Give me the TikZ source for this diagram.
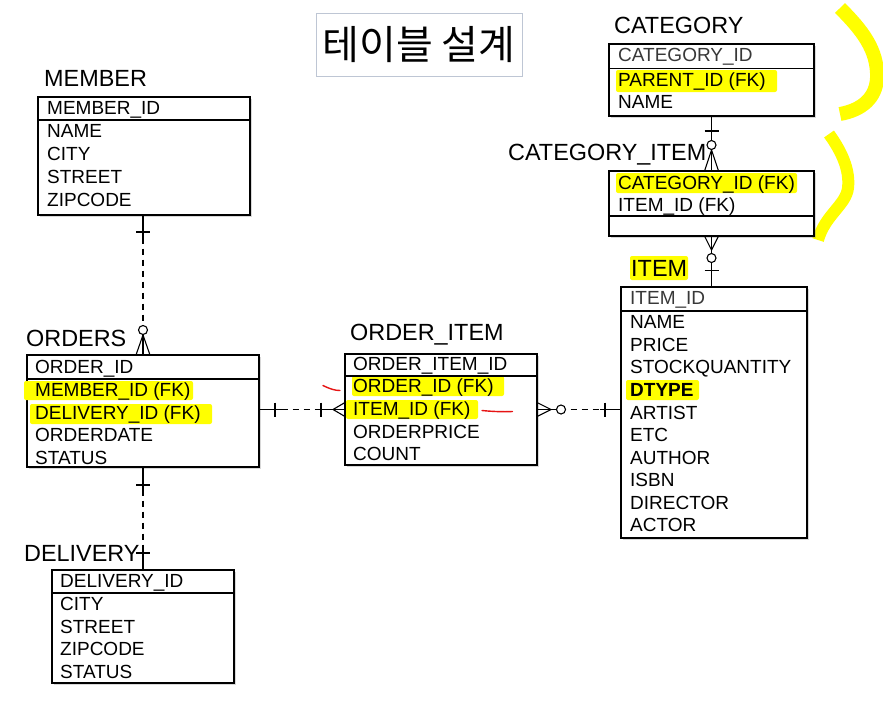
\documentclass[tikz,border=0pt]{standalone}
\usepackage{fontspec}
\setmainfont{Liberation Sans}
\newfontfamily\krfont{Noto Sans CJK KR}
\usetikzlibrary{shadows}
\definecolor{hl}{RGB}{255,255,0}
\definecolor{titlebd}{RGB}{190,198,212}
\definecolor{redmark}{RGB}{230,20,20}
\tikzset{
  tbl/.style={draw, line width=1.3pt, fill=white, inner sep=0pt,
    drop shadow={shadow xshift=1.5pt, shadow yshift=-1.8pt, opacity=0.3}},
  hdrline/.style={line width=1.3pt},
  row/.style={anchor=west, inner sep=0pt, text height=13.6pt, text depth=0pt,
    font=\fontsize{19}{20}\selectfont},
  idrow/.style={row, text=black!78},
  ttl/.style={anchor=west, inner sep=0pt, text height=16.8pt, text depth=0pt,
    font=\fontsize{23.4}{24}\selectfont},
  hlbox/.style={fill=hl, rounded corners=2pt},
  conn/.style={line width=1.1pt},
  dconn/.style={line width=1.1pt, dash pattern=on 6pt off 5pt},
  brush/.style={draw=hl, line width=14pt},
  redstroke/.style={draw=redmark, line width=1.4pt, line cap=round}
}
\begin{document}
\begin{tikzpicture}[x=1pt, y=-1pt]
\useasboundingbox[fill=white] (0,0) rectangle (883,702);

% title
\node[draw=titlebd, line width=0.9pt, minimum width=206pt, minimum height=63pt, inner sep=0pt,
  font=\krfont\fontsize{40}{42}\selectfont] (title) at (419,44.5) {테이블 설계};

% yellow brush strokes
\draw[brush] (840,8) .. controls (862,30) and (878,50) .. (877,78) .. controls (876,98) and (862,110) .. (840,114);
\draw[brush, line width=12pt] (829,134) .. controls (842,152) and (850,170) .. (848,188) .. controls (846,205) and (825,215) .. (818,240);

% tables
\node[tbl, minimum width=212pt, minimum height=118pt] (member) at (144,156) {};
\node[tbl, minimum width=205pt, minimum height=72pt] (cat) at (711.5,80) {};
\node[tbl, minimum width=205pt, minimum height=65pt] (ci) at (711.5,203.5) {};
\node[tbl, minimum width=186pt, minimum height=251pt] (item) at (714,412.5) {};
\node[tbl, minimum width=192pt, minimum height=111pt] (oi) at (441,409.5) {};
\node[tbl, minimum width=232pt, minimum height=112pt] (orders) at (143,411) {};
\node[tbl, minimum width=182pt, minimum height=113pt] (delivery) at (143,626.5) {};

% highlights
\fill[hlbox] (616,70) rectangle (777,92);
\fill[hlbox] (616,173) rectangle (797,193);
\fill[hlbox] (630,256) rectangle (688,280);
\fill[hlbox] (626,380) rectangle (699,400);
\fill[hlbox] (352,376) rectangle (504,396);
\fill[hlbox] (346,400) rectangle (478,419);
\fill[hlbox] (24,381) rectangle (193,400);
\fill[hlbox] (30,404) rectangle (212,424);

% header separators
\draw[hdrline] (member.west |- 0,120) -- (member.east |- 0,120);
\draw[hdrline] (cat.west |- 0,68.5) -- (cat.east |- 0,68.5);
\draw[hdrline] (ci.west |- 0,216) -- (ci.east |- 0,216);
\draw[hdrline] (item.west |- 0,311) -- (item.east |- 0,311);
\draw[hdrline] (oi.west |- 0,376) -- (oi.east |- 0,376);
\draw[hdrline] (orders.west |- 0,379) -- (orders.east |- 0,379);
\draw[hdrline] (delivery.west |- 0,593) -- (delivery.east |- 0,593);

% titles
\node[ttl] (tmember) at (44,78.5) {MEMBER};
\node[ttl] (tcat) at (614,25) {CATEGORY};
\node[ttl] (tci) at (508,152) {CATEGORY\_ITEM};
\node[ttl] (titem) at (631,268) {ITEM};
\node[ttl] (toi) at (350,332) {ORDER\_ITEM};
\node[ttl] (torders) at (26,338) {ORDERS};
\node[ttl] (tdelivery) at (24,553) {DELIVERY};

% MEMBER rows
\node[row] (member-h) at (47,108) {MEMBER\_ID};
\foreach \t [count=\i from 0] in {NAME, CITY, STREET, ZIPCODE}
  \node[row] (member-\i) at (47,{131+23*\i}) {\t};

% CATEGORY rows
\node[idrow] (cat-h) at (618,55) {CATEGORY\_ID};
\node[row] (cat-0) at (618,80) {PARENT\_ID (FK)};
\node[row] (cat-1) at (618,102) {NAME};

% CATEGORY_ITEM rows
\node[row] (ci-0) at (618,183) {CATEGORY\_ID (FK)};
\node[row] (ci-1) at (618,205) {ITEM\_ID (FK)};

% ITEM rows
\node[idrow] (item-h) at (630,298) {ITEM\_ID};
\foreach \t [count=\i from 0] in {NAME, PRICE, STOCKQUANTITY, \textbf{DTYPE}, ARTIST, ETC, AUTHOR, ISBN, DIRECTOR, ACTOR}
  \node[row] (item-\i) at (630,{322+22.55*\i}) {\t};

% ORDER_ITEM rows
\node[row] (oi-h) at (353,364) {ORDER\_ITEM\_ID};
\foreach \t [count=\i from 0] in {ORDER\_ID (FK), ITEM\_ID (FK), ORDERPRICE, COUNT}
  \node[row] (oi-\i) at (353,{386+22.7*\i}) {\t};

% ORDERS rows
\node[row] (orders-h) at (35,367) {ORDER\_ID};
\foreach \t [count=\i from 0] in {MEMBER\_ID (FK), DELIVERY\_ID (FK), ORDERDATE, STATUS}
  \node[row] (orders-\i) at (35,{390+22.4*\i}) {\t};

% DELIVERY rows
\node[row] (delivery-h) at (60,581) {DELIVERY\_ID};
\foreach \t [count=\i from 0] in {CITY, STREET, ZIPCODE, STATUS}
  \node[row] (delivery-\i) at (60,{604+22.5*\i}) {\t};

% red marks
\draw[redstroke] (323,385.5) .. controls (330,389) and (335,390.5) .. (340,390.5);
\draw[redstroke] (482,410.5) .. controls (492,411.5) and (503,412) .. (512.5,411.5);

% ---- connectors ----
% MEMBER - ORDERS
\draw[dconn] (member.south -| orders.north) -- (orders.north);
\draw[conn] (member.south -| orders.north) -- (143,240);
\draw[conn] (136,232) -- (150,232);
\draw[conn] (143,325) -- (orders.north);
\draw[conn] (136,355) -- (143,335) -- (150,355);
\draw[conn, fill=white] (143,330) circle (4.5pt);

% ORDERS - DELIVERY
\draw[dconn] (orders.south) -- (delivery.north);
\draw[conn] (orders.south) -- (143,490);
\draw[conn] (136,485) -- (150,485);
\draw[conn] (143,548) -- (delivery.north);
\draw[conn] (136,553) -- (150,553);

% ORDERS - ORDER_ITEM
\draw[dconn] (orders.east |- oi.west) -- (oi.west);
\draw[conn] (orders.east |- oi.west) -- (282,409.5);
\draw[conn] (275,402.5) -- (275,416.5);
\draw[conn] (315,409.5) -- (oi.west);
\draw[conn] (321,402.5) -- (321,416.5);
\draw[conn] (345,402.5) -- (333,409.5) -- (345,416.5);

% ORDER_ITEM - ITEM
\draw[dconn] (oi.east) -- (item.west |- oi.east);
\draw[conn] (oi.east) -- (566,409.5);
\draw[conn] (537,402.5) -- (551,409.5) -- (537,416.5);
\draw[conn, fill=white] (561,409.5) circle (4.5pt);
\draw[conn] (600,409.5) -- (item.west |- oi.east);
\draw[conn] (605,402.5) -- (605,416.5);

% CATEGORY - CATEGORY_ITEM
\draw[conn] (cat.south) -- (ci.north);
\draw[conn] (704.5,131) -- (718.5,131);
\draw[conn] (704.5,171) -- (711.5,150) -- (718.5,171);
\draw[conn, fill=white] (711.5,145) circle (4.5pt);

% CATEGORY_ITEM - ITEM
\draw[conn] (ci.south) -- (item.north -| ci.south);
\draw[conn] (704.5,236) -- (711.5,250) -- (718.5,236);
\draw[conn, fill=white] (711.5,258) circle (4.5pt);
\draw[conn] (704.5,270.5) -- (718.5,270.5);
\end{tikzpicture}
\end{document}
